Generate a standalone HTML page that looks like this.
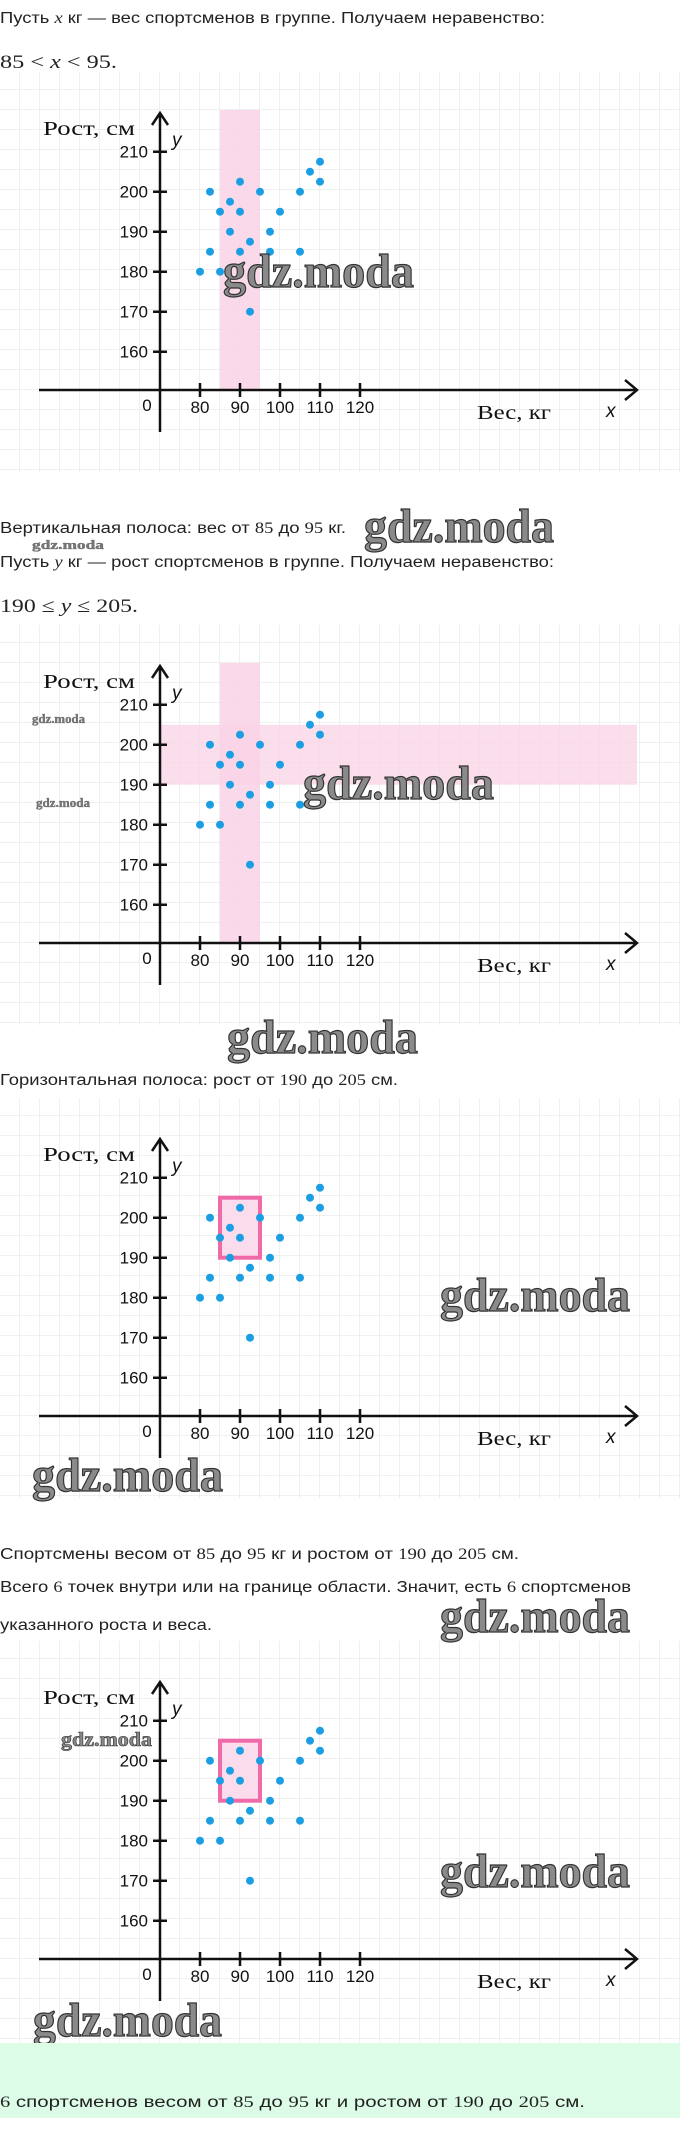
<!DOCTYPE html>
<html><head><meta charset="utf-8"><style>
html,body{margin:0;padding:0;background:#fff;}
svg{display:block;}
.t{font-family:"Liberation Sans",sans-serif;font-size:15.5px;fill:#222;}
.m{font-family:"Liberation Serif",serif;font-size:19px;fill:#222;}
.tk{font-family:"Liberation Sans",sans-serif;font-size:17px;fill:#111;}
.lb{font-family:"Liberation Serif",serif;font-size:20px;fill:#111;}
.it{font-family:"Liberation Sans",sans-serif;font-style:italic;font-size:19px;fill:#111;}
.wm{font-family:"Liberation Serif",serif;font-weight:bold;font-size:48px;fill:#8a8a8a;stroke:#333;stroke-width:1.2;}
.ws{font-family:"Liberation Serif",serif;font-weight:bold;font-size:13px;fill:#777;stroke:#555;stroke-width:0.3;}
</style></head><body>
<svg width="680" height="2154" viewBox="0 0 680 2154" xmlns="http://www.w3.org/2000/svg">
<defs>
<pattern id="grid" x="0" y="10" width="20" height="20" patternUnits="userSpaceOnUse">
<path d="M20 0V20M0 20H20" stroke="#e2e2e2" stroke-width="1" fill="none"/>
</pattern>
<g id="axes" stroke="#111" stroke-width="2.5" fill="none">
<path d="M160 432V113M152 125L160 113L168 125"/>
<path d="M39 390H637M625 380L637 390L625 400"/>
<path d="M153 151.7H167M153 191.7H167M153 231.7H167M153 271.7H167M153 311.7H167M153 351.7H167"/>
<path d="M200 383V397M240 383V397M280 383V397M320 383V397M360 383V397"/>
</g>
<g id="dots" fill="#1b9ee2">
<circle cx="200" cy="271.7" r="4"/><circle cx="210" cy="191.7" r="4"/><circle cx="210" cy="251.7" r="4"/>
<circle cx="220" cy="211.7" r="4"/><circle cx="220" cy="271.7" r="4"/><circle cx="230" cy="201.7" r="4"/>
<circle cx="230" cy="231.7" r="4"/><circle cx="240" cy="181.7" r="4"/><circle cx="240" cy="211.7" r="4"/>
<circle cx="240" cy="251.7" r="4"/><circle cx="250" cy="241.7" r="4"/><circle cx="250" cy="311.7" r="4"/>
<circle cx="260" cy="191.7" r="4"/><circle cx="270" cy="231.7" r="4"/><circle cx="270" cy="251.7" r="4"/>
<circle cx="280" cy="211.7" r="4"/><circle cx="300" cy="191.7" r="4"/><circle cx="300" cy="251.7" r="4"/>
<circle cx="310" cy="171.7" r="4"/><circle cx="320" cy="161.7" r="4"/><circle cx="320" cy="181.7" r="4"/>
</g>
</defs>

<text class="t" x="0" y="23" textLength="545" lengthAdjust="spacingAndGlyphs">Пусть <tspan font-family="Liberation Serif" font-style="italic">x</tspan> кг — вес спортсменов в группе. Получаем неравенство:</text>
<text class="m" x="0" y="68" textLength="117" lengthAdjust="spacingAndGlyphs">85 &lt; <tspan font-style="italic">x</tspan> &lt; 95.</text>

<g transform="translate(0,0)">
<rect x="0" y="72" width="680" height="400" fill="url(#grid)"/>
<rect x="220" y="110" width="40" height="280" fill="#f9d3e6" opacity="0.85"/>
<use href="#axes"/><use href="#dots"/>
<text class="lb" x="43" y="135" textLength="92" lengthAdjust="spacingAndGlyphs">Рост, см</text>
<text class="it" x="172" y="146">y</text>
<text class="tk" text-anchor="end" x="148"><tspan x="148" y="157.7">210</tspan><tspan x="148" y="197.7">200</tspan><tspan x="148" y="237.7">190</tspan><tspan x="148" y="277.7">180</tspan><tspan x="148" y="317.7">170</tspan><tspan x="148" y="357.7">160</tspan></text>
<text class="tk" text-anchor="middle"><tspan x="147" y="411">0</tspan><tspan x="200" y="413">80</tspan><tspan x="240" y="413">90</tspan><tspan x="280" y="413">100</tspan><tspan x="320" y="413">110</tspan><tspan x="360" y="413">120</tspan></text>
<text class="lb" x="477" y="419" textLength="74" lengthAdjust="spacingAndGlyphs">Вес, кг</text>
<text class="it" x="606" y="417">x</text>
</g>
<text class="wm" x="223" y="287" textLength="191" lengthAdjust="spacingAndGlyphs">gdz.moda</text>

<text class="t" x="0" y="533" textLength="346" lengthAdjust="spacingAndGlyphs">Вертикальная полоса: вес от <tspan font-family="Liberation Serif">85</tspan> до <tspan font-family="Liberation Serif">95</tspan> кг.</text>
<text class="wm" x="364" y="542" textLength="190" lengthAdjust="spacingAndGlyphs">gdz.moda</text>
<text class="ws" x="32" y="549" textLength="72" lengthAdjust="spacingAndGlyphs">gdz.moda</text>
<text class="t" x="0" y="567" textLength="554" lengthAdjust="spacingAndGlyphs">Пусть <tspan font-family="Liberation Serif" font-style="italic">y</tspan> кг — рост спортсменов в группе. Получаем неравенство:</text>
<text class="m" x="0" y="612" textLength="138" lengthAdjust="spacingAndGlyphs">190 ≤ <tspan font-style="italic">y</tspan> ≤ 205.</text>

<g transform="translate(0,553)">
<rect x="0" y="72" width="680" height="400" fill="url(#grid)"/>
<rect x="220" y="110" width="40" height="280" fill="#f9d3e6" opacity="0.85"/>
<rect x="161" y="171.7" width="476" height="60" fill="#f9d3e6" opacity="0.75"/>
<use href="#axes"/><use href="#dots"/>
<text class="lb" x="43" y="135" textLength="92" lengthAdjust="spacingAndGlyphs">Рост, см</text>
<text class="it" x="172" y="146">y</text>
<text class="tk" text-anchor="end" x="148"><tspan x="148" y="157.7">210</tspan><tspan x="148" y="197.7">200</tspan><tspan x="148" y="237.7">190</tspan><tspan x="148" y="277.7">180</tspan><tspan x="148" y="317.7">170</tspan><tspan x="148" y="357.7">160</tspan></text>
<text class="tk" text-anchor="middle"><tspan x="147" y="411">0</tspan><tspan x="200" y="413">80</tspan><tspan x="240" y="413">90</tspan><tspan x="280" y="413">100</tspan><tspan x="320" y="413">110</tspan><tspan x="360" y="413">120</tspan></text>
<text class="lb" x="477" y="419" textLength="74" lengthAdjust="spacingAndGlyphs">Вес, кг</text>
<text class="it" x="606" y="417">x</text>
</g>
<text class="ws" x="32" y="723" textLength="53" lengthAdjust="spacingAndGlyphs">gdz.moda</text>
<text class="ws" x="36" y="807" textLength="54" lengthAdjust="spacingAndGlyphs">gdz.moda</text>
<text class="wm" x="303" y="799" textLength="191" lengthAdjust="spacingAndGlyphs">gdz.moda</text>
<text class="wm" x="227" y="1053" textLength="191" lengthAdjust="spacingAndGlyphs">gdz.moda</text>

<text class="t" x="0" y="1085" textLength="398" lengthAdjust="spacingAndGlyphs">Горизонтальная полоса: рост от <tspan font-family="Liberation Serif">190</tspan> до <tspan font-family="Liberation Serif">205</tspan> см.</text>

<g transform="translate(0,1026)">
<rect x="0" y="72" width="680" height="400" fill="url(#grid)"/>
<rect x="220" y="171.7" width="40" height="60" fill="#fbdcec" stroke="#f06aaa" stroke-width="4"/>
<use href="#axes"/><use href="#dots"/>
<text class="lb" x="43" y="135" textLength="92" lengthAdjust="spacingAndGlyphs">Рост, см</text>
<text class="it" x="172" y="146">y</text>
<text class="tk" text-anchor="end" x="148"><tspan x="148" y="157.7">210</tspan><tspan x="148" y="197.7">200</tspan><tspan x="148" y="237.7">190</tspan><tspan x="148" y="277.7">180</tspan><tspan x="148" y="317.7">170</tspan><tspan x="148" y="357.7">160</tspan></text>
<text class="tk" text-anchor="middle"><tspan x="147" y="411">0</tspan><tspan x="200" y="413">80</tspan><tspan x="240" y="413">90</tspan><tspan x="280" y="413">100</tspan><tspan x="320" y="413">110</tspan><tspan x="360" y="413">120</tspan></text>
<text class="lb" x="477" y="419" textLength="74" lengthAdjust="spacingAndGlyphs">Вес, кг</text>
<text class="it" x="606" y="417">x</text>
</g>
<text class="wm" x="440" y="1311" textLength="190" lengthAdjust="spacingAndGlyphs">gdz.moda</text>
<text class="wm" x="32" y="1491" textLength="191" lengthAdjust="spacingAndGlyphs">gdz.moda</text>

<text class="t" x="0" y="1559" textLength="519" lengthAdjust="spacingAndGlyphs">Спортсмены весом от <tspan font-family="Liberation Serif">85</tspan> до <tspan font-family="Liberation Serif">95</tspan> кг и ростом от <tspan font-family="Liberation Serif">190</tspan> до <tspan font-family="Liberation Serif">205</tspan> см.</text>
<text class="t" x="0" y="1592" textLength="631" lengthAdjust="spacingAndGlyphs">Всего <tspan font-family="Liberation Serif">6</tspan> точек внутри или на границе области. Значит, есть <tspan font-family="Liberation Serif">6</tspan> спортсменов</text>
<text class="t" x="0" y="1630" textLength="212" lengthAdjust="spacingAndGlyphs">указанного роста и веса.</text>
<text class="wm" x="440" y="1632" textLength="190" lengthAdjust="spacingAndGlyphs">gdz.moda</text>

<g transform="translate(0,1569)">
<rect x="0" y="72" width="680" height="402" fill="url(#grid)"/>
<rect x="220" y="171.7" width="40" height="60" fill="#fbdcec" stroke="#f06aaa" stroke-width="4"/>
<use href="#axes"/><use href="#dots"/>
<text class="lb" x="43" y="135" textLength="92" lengthAdjust="spacingAndGlyphs">Рост, см</text>
<text class="it" x="172" y="146">y</text>
<text class="tk" text-anchor="end" x="148"><tspan x="148" y="157.7">210</tspan><tspan x="148" y="197.7">200</tspan><tspan x="148" y="237.7">190</tspan><tspan x="148" y="277.7">180</tspan><tspan x="148" y="317.7">170</tspan><tspan x="148" y="357.7">160</tspan></text>
<text class="tk" text-anchor="middle"><tspan x="147" y="411">0</tspan><tspan x="200" y="413">80</tspan><tspan x="240" y="413">90</tspan><tspan x="280" y="413">100</tspan><tspan x="320" y="413">110</tspan><tspan x="360" y="413">120</tspan></text>
<text class="lb" x="477" y="419" textLength="74" lengthAdjust="spacingAndGlyphs">Вес, кг</text>
<text class="it" x="606" y="417">x</text>
</g>
<text class="wm" x="61" y="1746" style="font-size:20px;stroke-width:0.6" textLength="91" lengthAdjust="spacingAndGlyphs">gdz.moda</text>
<text class="wm" x="440" y="1887" textLength="190" lengthAdjust="spacingAndGlyphs">gdz.moda</text>
<text class="wm" x="33" y="2036" textLength="189" lengthAdjust="spacingAndGlyphs">gdz.moda</text>

<rect x="0" y="2043" width="680" height="75" fill="#dcfce8"/>
<text class="t" x="0" y="2107" textLength="585" lengthAdjust="spacingAndGlyphs"><tspan font-family="Liberation Serif">6</tspan> спортсменов весом от <tspan font-family="Liberation Serif">85</tspan> до <tspan font-family="Liberation Serif">95</tspan> кг и ростом от <tspan font-family="Liberation Serif">190</tspan> до <tspan font-family="Liberation Serif">205</tspan> см.</text>
</svg>
</body></html>
